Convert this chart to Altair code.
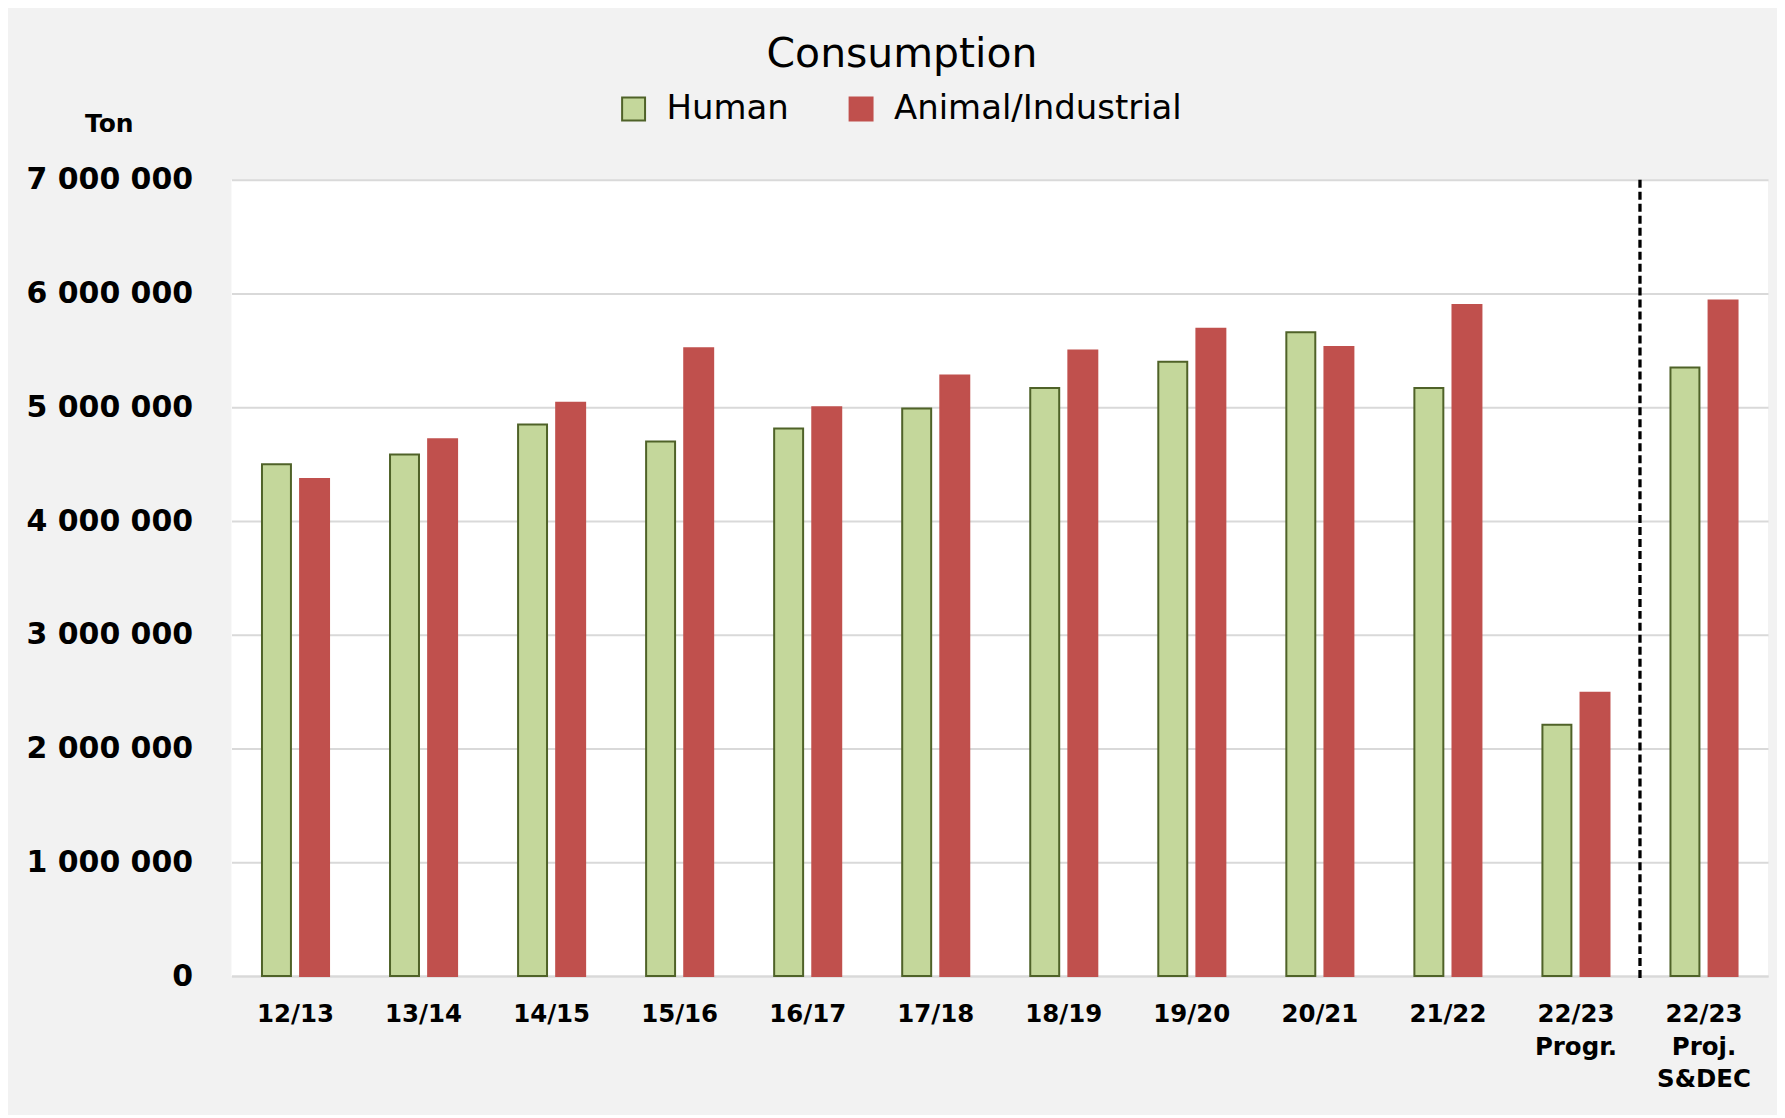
import altair as alt
import pandas as pd

categories = ["12/13", "13/14", "14/15", "15/16", "16/17", "17/18", "18/19",
              "19/20", "20/21", "21/22", "22/23|Progr.", "22/23|Proj.|S&DEC"]
human = [4500000, 4585000, 4850000, 4700000, 4815000, 4990000, 5170000,
         5400000, 5660000, 5170000, 2210000, 5350000]
animal = [4370000, 4720000, 5040000, 5520000, 5000000, 5280000, 5500000,
          5690000, 5530000, 5900000, 2490000, 5940000]
series = ["Human", "Animal/Industrial"]
y_ticks = [0, 1000000, 2000000, 3000000, 4000000, 5000000, 6000000, 7000000]
divider_at = ["22/23|Proj.|S&DEC"]

rows = []
for c, h, a in zip(categories, human, animal):
    rows.append({"season": c, "series": series[0], "value": h})
    rows.append({"season": c, "series": series[1], "value": a})
df = pd.DataFrame(rows)
div_df = pd.DataFrame({"season": divider_at})

W, H = 1540, 798
FONT = "DejaVu Sans"

xscale = alt.Scale(domain=categories, paddingInner=0, paddingOuter=0)

bars = alt.Chart(df).mark_bar(strokeWidth=2).encode(
    x=alt.X("season:N", scale=xscale, sort=categories,
            axis=alt.Axis(title=None, labelExpr="split(datum.value, '|')",
                          labelFont=FONT, labelFontWeight="bold", labelFontSize=24.5,
                          labelLineHeight=32.5, labelPadding=27, labelColor="#000000",
                          labelAngle=0, ticks=False, domainColor="#d9d9d9",
                          domainWidth=2, grid=False)),
    xOffset=alt.XOffset("series:N", sort=series,
                        scale=alt.Scale(domain=series, paddingInner=0.24, paddingOuter=0.8)),
    y=alt.Y("value:Q", scale=alt.Scale(domain=[0, 7000000], nice=False),
            axis=alt.Axis(values=y_ticks, title="Ton", titleAngle=0, titleAlign="center",
                          titleBaseline="middle", titleX=-123, titleY=-56,
                          titleFont=FONT, titleFontSize=25, titleFontWeight="bold",
                          titleColor="#000000",
                          labelExpr="replace(format(datum.value, ','), /,/g, ' ')",
                          labelFont=FONT, labelFontSize=30, labelFontWeight="bold",
                          labelColor="#000000", labelPadding=39, ticks=False,
                          domain=False, gridColor="#d9d9d9", gridWidth=2)),
    fill=alt.Fill("series:N", scale=alt.Scale(domain=series, range=["#c4d79b", "#c0504d"]),
                  legend=alt.Legend(title=None, orient="none", direction="horizontal",
                                    legendX=386, legendY=-88, symbolType="square",
                                    symbolSize=529, symbolStrokeWidth=2,
                                    labelFont=FONT, labelFontSize=34, labelColor="#000000",
                                    labelLimit=600, labelOffset=16, columnPadding=55,
                                    padding=0)),
    stroke=alt.Stroke("series:N", scale=alt.Scale(domain=series, range=["#4f6228", "#c0504d"]),
                      legend=None),
)

divider = alt.Chart(div_df).mark_rule(color="#000000", strokeWidth=3.3,
                                      strokeDash=[8, 4]).encode(
    x=alt.X("season:N", scale=xscale, sort=categories, bandPosition=0),
    y=alt.value(0),
    y2=alt.value(H + 4),
)

chart = alt.layer(bars, divider).properties(
    width=W, height=H,
    autosize=alt.AutoSizeParams(type="none"),
    padding={"left": 224, "top": 171, "right": 9, "bottom": 138},
    background="#f2f2f2",
    title=alt.TitleParams("Consumption", font=FONT, fontSize=41, fontWeight="normal",
                          color="#000000", anchor="middle", dx=-98, offset=16),
).configure_view(fill="#ffffff", stroke=None)

chart.save("out.html", embed_options={"renderer": "svg", "actions": False})
